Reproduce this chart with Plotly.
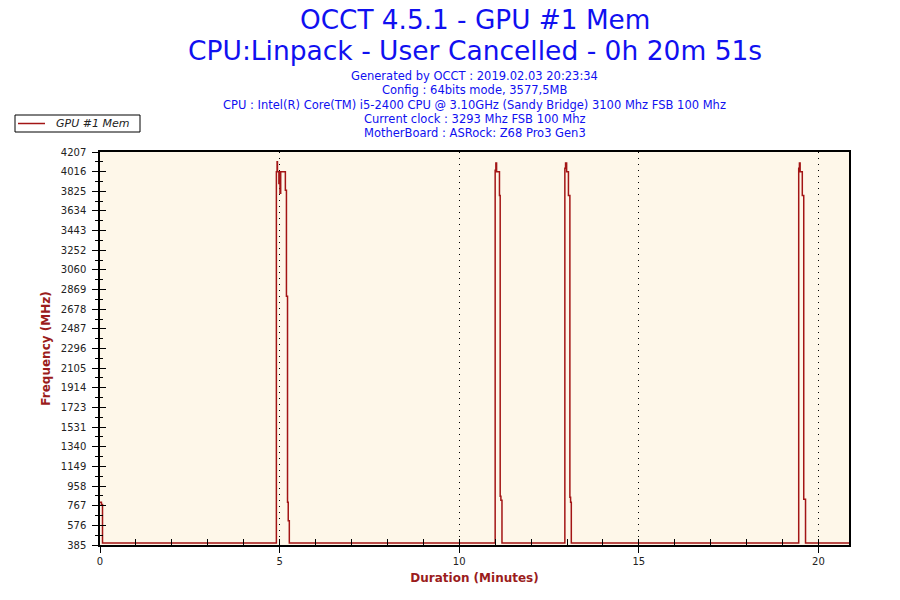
import plotly.graph_objects as go

# GPU #1 memory clock over the run (minutes, MHz)
minutes = [0.00, 0.04, 0.07,
           4.91, 4.93, 4.94, 4.98, 5.00, 5.01, 5.03, 5.16, 5.19, 5.22, 5.24, 5.27,
           11.00, 11.02, 11.04, 11.12, 11.14, 11.16, 11.19,
           12.94, 12.96, 12.99, 13.04, 13.08, 13.10, 13.12,
           19.45, 19.47, 19.49, 19.55, 19.59, 19.64,
           20.85]
mem_mhz = [800, 780, 405,
           4016, 4111, 4016, 3900, 4016, 3806, 4016, 3835, 2805, 800, 620, 405,
           4030, 4100, 4016, 3785, 860, 820, 405,
           4050, 4100, 4016, 3785, 850, 800, 405,
           4050, 4100, 4016, 3785, 830, 405,
           405]

y_ticks = [385, 576, 767, 958, 1149, 1340, 1531, 1723, 1914, 2105, 2296,
           2487, 2678, 2869, 3060, 3252, 3443, 3634, 3825, 4016, 4207]
x_ticks = [0, 5, 10, 15, 20]

header = [
    "Generated by OCCT : 2019.02.03 20:23:34",
    "Config : 64bits mode, 3577,5MB",
    "CPU : Intel(R) Core(TM) i5-2400 CPU @ 3.10GHz (Sandy Bridge) 3100 Mhz FSB 100 Mhz",
    "Current clock : 3293 Mhz FSB 100 Mhz",
    "MotherBoard : ASRock: Z68 Pro3 Gen3",
]

LINE = "#A31515"
AXIS_RED = "#9B1C1C"
BLUE = "#1010F0"
FONT = "DejaVu Sans"

x_range = [0, 20.85]
y_range = [385, 4207]

W, H = 900, 600
L, T = 100, 152
PW, PH = 749, 393

fig = go.Figure()

fig.add_trace(go.Scatter(
    x=minutes, y=mem_mhz, mode="lines", line_shape="hv",
    line=dict(color=LINE, width=1.5), name="GPU #1 Mem", showlegend=False,
))
# empty trace so the overlay axes (inside ticks) get drawn
fig.add_trace(go.Scatter(x=[], y=[], xaxis="x2", yaxis="y2",
                         showlegend=False, hoverinfo="skip"))

tick_font = dict(family=FONT, size=10, color="#222222")

fig.update_layout(
    width=W, height=H,
    margin=dict(l=L, r=W - L - PW, t=T, b=H - T - PH),
    paper_bgcolor="white",
    plot_bgcolor="#FEF7E9",
    font=dict(family=FONT),
    xaxis=dict(
        range=x_range, tickmode="array", tickvals=x_ticks,
        ticks="outside", ticklen=6, tickcolor="black",
        showgrid=True, gridcolor="black", griddash="1px,5px", gridwidth=1,
        zeroline=False, showline=True, linecolor="black", linewidth=1.5,
        mirror=True, tickfont=tick_font,
        title=dict(text="<b>Duration (Minutes)</b>", standoff=8,
                   font=dict(family=FONT, size=12, color=AXIS_RED)),
    ),
    yaxis=dict(
        range=y_range, tickmode="array", tickvals=y_ticks,
        ticktext=[str(v) for v in y_ticks],
        ticks="outside", ticklen=6, tickcolor="black", ticklabelstandoff=4,
        minor=dict(tick0=385, dtick=(4207 - 385) / 40, ticks="outside",
                   ticklen=3, tickcolor="black"),
        showgrid=False, zeroline=False, showline=True, linecolor="black",
        linewidth=1.5, mirror=True, tickfont=tick_font,
        title=dict(text="<b>Frequency (MHz)</b>", standoff=8,
                   font=dict(family=FONT, size=12, color=AXIS_RED)),
    ),
    xaxis2=dict(
        range=x_range, overlaying="x", anchor="y2", side="bottom",
        tickmode="array", tickvals=x_ticks, ticks="inside", ticklen=6,
        tickcolor="black", showticklabels=False, showgrid=False,
        zeroline=False, showline=False,
        minor=dict(dtick=1, ticks="inside", ticklen=6, tickcolor="black"),
    ),
    yaxis2=dict(
        range=y_range, overlaying="y", anchor="x2", side="left",
        tickmode="array", tickvals=y_ticks, ticks="inside", ticklen=6,
        tickcolor="black", showticklabels=False, showgrid=False,
        zeroline=False, showline=False,
        minor=dict(tick0=385, dtick=(4207 - 385) / 40, ticks="inside",
                   ticklen=3, tickcolor="black"),
    ),
    showlegend=False,
)


def px_x(p):
    # window pixel -> paper x
    return (p - L) / PW


def px_y(p):
    # window pixel -> paper y
    return 1 - (p - T) / PH


# legend box drawn by hand (plotly's own legend is too tall)
fig.add_shape(type="rect", xref="paper", yref="paper",
              x0=px_x(15), x1=px_x(140), y0=px_y(115), y1=px_y(132),
              line=dict(color="black", width=1), fillcolor="white")
fig.add_shape(type="line", xref="paper", yref="paper",
              x0=px_x(18), x1=px_x(45), y0=px_y(123.5), y1=px_y(123.5),
              line=dict(color=LINE, width=1.5))
fig.add_annotation(text="GPU #1 Mem", xref="paper", yref="paper",
                   x=px_x(54), xanchor="left", y=px_y(123.5), yanchor="middle",
                   showarrow=False,
                   font=dict(family=FONT, size=11, color="#222222", style="italic"))

# titles above the plot area
title_lines = [
    ("OCCT 4.5.1 - GPU #1 Mem", 26.3, 20),
    ("CPU:Linpack - User Cancelled - 0h 20m 51s", 26.5, 50),
]
for text, size, ypix in title_lines:
    fig.add_annotation(
        text=text, xref="paper", yref="paper", x=0.5, xanchor="center",
        y=px_y(ypix), yanchor="middle", showarrow=False,
        font=dict(family=FONT, size=size, color=BLUE),
    )
for i, text in enumerate(header):
    fig.add_annotation(
        text=text, xref="paper", yref="paper", x=0.5, xanchor="center",
        y=px_y(76 + i * 14.3), yanchor="middle", showarrow=False,
        font=dict(family=FONT, size=11.5, color=BLUE),
    )

# drop the default 8px page margin so the figure fills the window exactly
fig.write_html("out.html", config={"displayModeBar": False},
               post_script="document.body.style.margin = '0';")
